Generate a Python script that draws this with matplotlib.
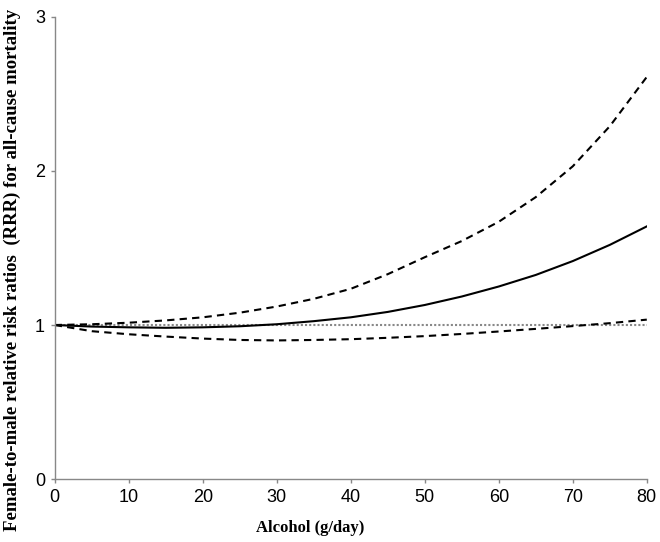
#!/usr/bin/env python3

import matplotlib
matplotlib.use('Agg')
import matplotlib.pyplot as plt

# alcohol intake (g/day)
alcohol = [0, 5, 10, 15, 20, 25, 30, 35, 40, 45, 50, 55, 60, 65, 70, 75, 80]
# female-to-male RRR and its 95% CI
rrr = [1.0, 0.99, 0.985, 0.982, 0.985, 0.992, 1.005, 1.025, 1.05, 1.085,
       1.13, 1.185, 1.25, 1.325, 1.415, 1.52, 1.64]
ci_upper = [1.0, 1.005, 1.015, 1.03, 1.05, 1.08, 1.12, 1.17, 1.235, 1.33,
            1.44, 1.545, 1.67, 1.83, 2.03, 2.29, 2.61]
ci_lower = [1.0, 0.96, 0.94, 0.925, 0.912, 0.903, 0.90, 0.903, 0.908, 0.917,
            0.928, 0.942, 0.958, 0.975, 0.993, 1.012, 1.035]

xticks = [0, 10, 20, 30, 40, 50, 60, 70, 80]
yticks = [0, 1, 2, 3]


def plot(output_file):
    fig = plt.figure(figsize=(6.6, 5.42), dpi=100)
    ax = fig.add_axes([0.083, 0.116, 0.897, 0.853])

    # reference line at 1
    ax.axhline(1.0, color='#888888', linestyle=(0, (1, 1)), linewidth=1.5)

    # curves
    ax.plot(alcohol, rrr, color='black', linewidth=1.5)
    ax.plot(alcohol, ci_upper, color='black', linewidth=1.5,
            linestyle=(0, (3.5, 2.5)))
    ax.plot(alcohol, ci_lower, color='black', linewidth=1.5,
            linestyle=(0, (3.5, 2.5)))

    # limits
    ax.set_xlim(0, 80)
    ax.set_ylim(0, 3)
    ax.set_xticks(xticks)
    ax.set_yticks(yticks)

    # spines / ticks
    for side in ['top', 'right']:
        ax.spines[side].set_visible(False)
    for side in ['left', 'bottom']:
        ax.spines[side].set_color('#888888')
        ax.spines[side].set_linewidth(1.0)
    ax.tick_params(direction='out', length=3, width=1.0, color='#888888',
                   pad=4)
    for lab in ax.get_xticklabels() + ax.get_yticklabels():
        lab.set_family(['Liberation Sans', 'DejaVu Sans'])
        lab.set_fontsize(13)
        lab.set_color('#000000')

    # labels
    fig.text(310 / 660, 0.026, 'Alcohol (g/day)', family=['Liberation Serif'],
             fontweight='bold', fontsize=12, ha='center', va='center')
    fig.text(12 / 660, 0.502,
             'Female-to-male relative risk ratios  (RRR) for all-cause mortality',
             family=['Liberation Serif'], fontweight='bold', fontsize=13.5,
             rotation=90, ha='center', va='center')

    plt.savefig(output_file, dpi=100)


def main():
    plot('out.png')


if __name__ == '__main__':
    main()
